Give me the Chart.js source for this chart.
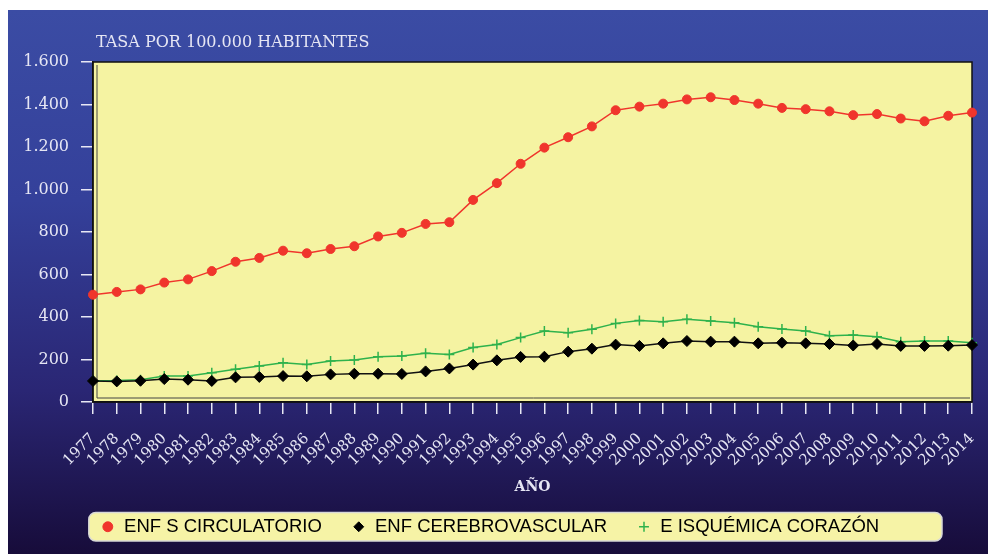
<!DOCTYPE html>
<html>
<head>
<meta charset="utf-8">
<script src="https://cdn.jsdelivr.net/npm/chart.js@4.4.1/dist/chart.umd.min.js"></script>
<style>
  html, body { margin: 0; padding: 0; background: #fff; }
  #wrap { width: 988px; height: 554px; }
</style>
</head>
<body>
<div id="wrap"><canvas id="chart" width="988" height="554"></canvas></div>
<script>
const years = ["1977", "1978", "1979", "1980", "1981", "1982", "1983", "1984", "1985", "1986",
  "1987", "1988", "1989", "1990", "1991", "1992", "1993", "1994", "1995", "1996",
  "1997", "1998", "1999", "2000", "2001", "2002", "2003", "2004", "2005", "2006",
  "2007", "2008", "2009", "2010", "2011", "2012", "2013", "2014"];

const circulatorio = [505, 518, 530, 562, 577, 616, 660, 678, 712, 700,
  720, 733, 779, 796, 838, 846, 951, 1030, 1121, 1197,
  1246, 1297, 1373, 1390, 1404, 1424, 1434, 1421, 1404, 1384,
  1378, 1368, 1350, 1355, 1334, 1321, 1347, 1362];

const cerebrovascular = [99, 97, 100, 108, 105, 99, 116, 118, 122, 121,
  130, 133, 133, 132, 144, 158, 176, 196, 212, 213,
  237, 251, 270, 264, 276, 287, 284, 284, 276, 279,
  276, 273, 266, 273, 264, 264, 265, 268];

const isquemica = [100, 101, 105, 122, 122, 138, 154, 169, 185, 177,
  193, 198, 213, 216, 229, 224, 256, 271, 303, 334,
  326, 342, 370, 383, 378, 389, 381, 373, 354, 343,
  334, 312, 315, 307, 284, 287, 287, 279];

const yTicks = [0, 200, 400, 600, 800, 1000, 1200, 1400, 1600];

const labelColor = "#e6e6f4";
const serif = "'DejaVu Serif', 'Liberation Serif', serif";

const backdrop = {
  id: "backdrop",
  beforeDraw(chart) {
    const { ctx, chartArea: a } = chart;
    ctx.save();
    ctx.fillStyle = "#fff";
    ctx.fillRect(0, 0, chart.width, chart.height);
    const g = ctx.createLinearGradient(0, 10, 0, chart.height);
    g.addColorStop(0, "#3b4ca4");
    g.addColorStop(0.35, "#34409a");
    g.addColorStop(0.7, "#2a2674");
    g.addColorStop(1, "#170c3a");
    ctx.fillStyle = g;
    ctx.fillRect(8, 10, chart.width - 8, chart.height - 10);

    // legend frame
    const boxes = chart.legend.legendHitBoxes;
    if (boxes && boxes.length) {
      const top = boxes[0].top - 5;
      const h = boxes[0].height + 10;
      const left = boxes[0].left - 12;
      const right = chart.width - 46;
      ctx.beginPath();
      ctx.roundRect(left, top, right - left, h, 7);
      ctx.fillStyle = "#f6f3a6";
      ctx.fill();
      ctx.lineWidth = 1.5;
      ctx.strokeStyle = "#d8d8d8";
      ctx.stroke();
    }

    // plot wall
    ctx.fillStyle = "#f5f3a2";
    ctx.fillRect(a.left, a.top, a.right - a.left, a.bottom - a.top);
    ctx.restore();
  },
  beforeDatasetsDraw(chart) {
    const { ctx, chartArea: a } = chart;
    ctx.save();
    ctx.strokeStyle = "#111";
    ctx.lineWidth = 1.5;
    ctx.strokeRect(a.left, a.top, a.right - a.left, a.bottom - a.top);
    ctx.lineWidth = 1;
    ctx.strokeStyle = "#444";
    ctx.beginPath();
    ctx.moveTo(a.left + 4, a.top + 3);
    ctx.lineTo(a.left + 4, a.bottom - 4);
    ctx.lineTo(a.right - 2, a.bottom - 4);
    ctx.stroke();
    ctx.restore();
  },
  afterDraw(chart) {
    const { ctx, chartArea: a } = chart;
    ctx.save();
    ctx.fillStyle = labelColor;
    ctx.font = "16px " + serif;
    ctx.textBaseline = "middle";
    ctx.fillText("TASA POR 100.000 HABITANTES", a.left + 3, 43);
    ctx.restore();
  }
};

const axisGrid = {
  display: true,
  drawOnChartArea: false,
  drawTicks: true,
  tickLength: 12,
  color: "#e8e8f4",
  lineWidth: 1.5
};

new Chart(document.getElementById("chart"), {
  type: "line",
  data: {
    labels: years,
    datasets: [
      {
        label: "ENF S CIRCULATORIO",
        data: circulatorio,
        borderColor: "#f0352c",
        backgroundColor: "#f0352c",
        borderWidth: 1.5,
        pointStyle: "circle",
        pointRadius: 4.5,
        pointBorderWidth: 1,
        pointBackgroundColor: "#f0352c",
        pointBorderColor: "#f0352c"
      },
      {
        label: "ENF CEREBROVASCULAR",
        data: cerebrovascular,
        borderColor: "#111",
        backgroundColor: "#111",
        borderWidth: 1.5,
        pointStyle: "rectRot",
        pointRadius: 5.5,
        pointBorderWidth: 1,
        pointBackgroundColor: "#000",
        pointBorderColor: "#000"
      },
      {
        label: "E ISQUÉMICA CORAZÓN",
        data: isquemica,
        borderColor: "#2eb24c",
        backgroundColor: "#2eb24c",
        borderWidth: 1.5,
        pointStyle: "cross",
        pointRadius: 5,
        pointBorderWidth: 1.5,
        pointBackgroundColor: "#2eb24c",
        pointBorderColor: "#2eb24c"
      }
    ]
  },
  options: {
    responsive: false,
    animation: false,
    devicePixelRatio: 1,
    layout: { padding: { left: 8, top: 62, right: 16, bottom: 8 } },
    plugins: {
      title: { display: false },
      tooltip: { enabled: false },
      legend: {
        position: "bottom",
        labels: {
          usePointStyle: true,
          boxWidth: 14,
          boxHeight: 7,
          padding: 30,
          color: "#000",
          font: { family: "'Liberation Sans', Arial, sans-serif", size: 18.5 }
        }
      }
    },
    scales: {
      x: {
        offset: false,
        grid: axisGrid,
        border: { display: true, color: "#111", width: 1.5 },
        ticks: {
          autoSkip: false,
          maxRotation: 45,
          minRotation: 45,
          padding: 16,
          color: labelColor,
          font: { family: serif, size: 15 }
        },
        title: {
          display: true,
          text: "AÑO",
          color: labelColor,
          font: { family: serif, size: 14, weight: "bold" },
          padding: { top: -8, bottom: -8 }
        },
        afterFit(scale) {
          scale.height = 85.5;
          scale.paddingRight = 0;
        }
      },
      y: {
        min: 0,
        max: 1600,
        grid: axisGrid,
        border: { display: true, color: "#111", width: 1.5 },
        afterBuildTicks(scale) { scale.ticks = yTicks.map((v) => ({ value: v })); },
        ticks: {
          padding: 12,
          color: labelColor,
          font: { family: serif, size: 16 },
          callback: (v) => v.toLocaleString("de-DE")
        },
        afterFit(scale) { scale.width = 85; }
      }
    }
  },
  plugins: [backdrop]
});
</script>
</body>
</html>
